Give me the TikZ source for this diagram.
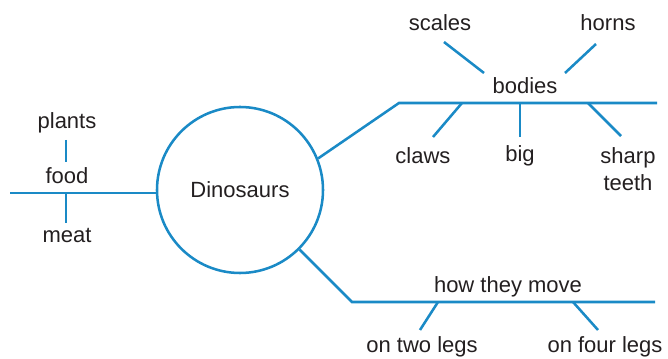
\documentclass[tikz,border=0pt]{standalone}
\usepackage{fontspec}
\setmainfont{Liberation Sans}
\definecolor{mapblue}{HTML}{1A8AC6}
\definecolor{ink}{HTML}{231F20}
\tikzset{
  branch/.style={mapblue, line width=1.9pt},
  word/.style={text=ink, inner sep=0pt, font=\fontsize{16.5}{20}\selectfont, align=center}
}
\begin{document}
\begin{tikzpicture}[x=0.75pt, y=-0.75pt]
  \useasboundingbox (0,0) rectangle (668,359);

  \node[circle, draw=mapblue, line width=1.9pt, minimum size=124.5pt, inner sep=0pt] (dino) at (240,190) {};
  \node[word] (dinotext) at (240,190) {Dinosaurs};

  % food
  \node[word] (food) at (67,176) {food};
  \node[word] (plants) at (67,123) {plants};
  \node[word] (meat) at (67,235) {meat};
  \coordinate (foodend) at (10,193);
  \coordinate (foodmid) at (66,193);
  \coordinate (plantstop) at (66,140);
  \coordinate (plantsbot) at (66,162);
  \coordinate (meattop) at (66,223);
  \draw[branch] (foodend) -- (dino.west |- foodend);
  \draw[branch] (plantstop) -- (plantsbot);
  \draw[branch] (foodmid) -- (meattop);

  % bodies
  \node[word] (bodies) at (525,86) {bodies};
  \node[word] (scales) at (440,23) {scales};
  \node[word] (horns) at (608,23) {horns};
  \node[word] (claws) at (423,156) {claws};
  \node[word] (big) at (520,156) {big};
  \node[word] (teeth) at (628,169) {sharp\\teeth};
  \coordinate (bodyknee) at (399,103);
  \coordinate (bodyend) at (657,103);
  \draw[branch] (dino.22) -- (bodyknee) -- (bodyend);
  \draw[branch] (444,42) coordinate (scalesa) -- (484,73) coordinate (scalesb);
  \draw[branch] (596,44) coordinate (hornsa) -- (565,73) coordinate (hornsb);
  \draw[branch] (462,103) coordinate (clawsa) -- (433,137) coordinate (clawsb);
  \draw[branch] (520,103) coordinate (biga) -- (520,137) coordinate (bigb);
  \draw[branch] (588,103) coordinate (teetha) -- (621,136) coordinate (teethb);

  % how they move
  \node[word] (move) at (508,287) {how they move};
  \node[word] (twolegs) at (422,347) {on two legs};
  \node[word] (fourlegs) at (605,347) {on four legs};
  \coordinate (moveknee) at (352,302);
  \coordinate (moveend) at (655,302);
  \draw[branch] (dino.-45) -- (moveknee) -- (moveend);
  \draw[branch] (438,302) coordinate (twoa) -- (420,330) coordinate (twob);
  \draw[branch] (573,302) coordinate (foura) -- (598,330) coordinate (fourb);
\end{tikzpicture}
\end{document}
